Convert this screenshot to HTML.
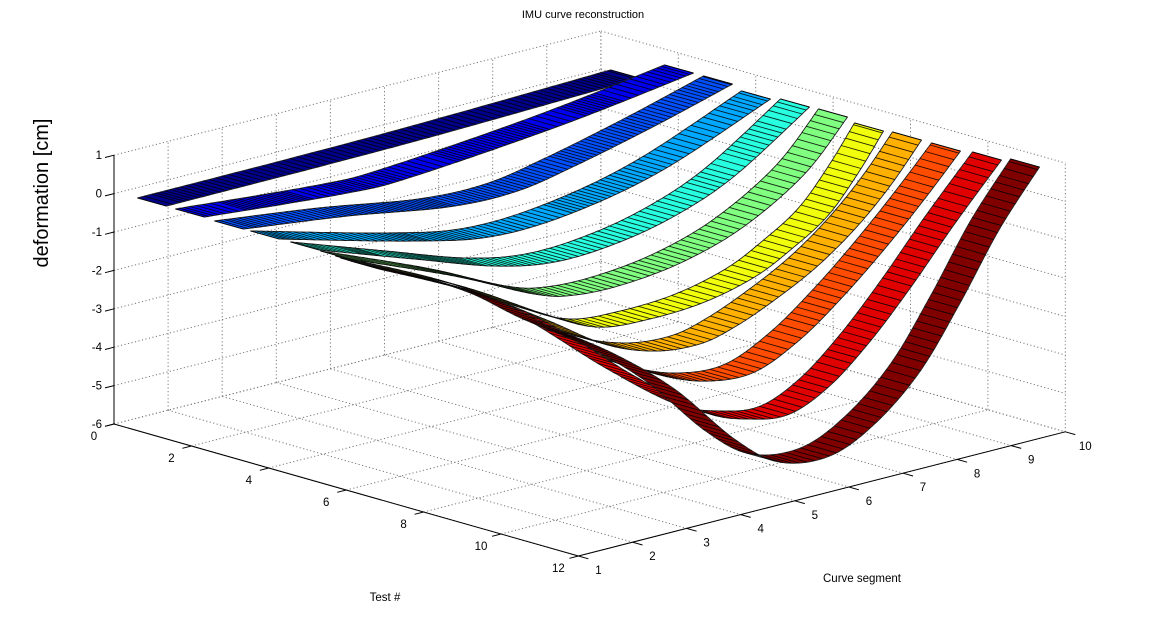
<!DOCTYPE html>
<html><head><meta charset="utf-8"><style>
html,body{margin:0;padding:0;background:#fff;}
svg{display:block;font-family:"Liberation Sans",Arial,sans-serif;}
</style></head><body>
<svg id="s" width="1166" height="629" viewBox="0 0 1166 629" xmlns="http://www.w3.org/2000/svg">
<rect width="1166" height="629" fill="#fff"/>
<g id="grid" fill="none" stroke="#7a7a7a" stroke-width="1" stroke-dasharray="1.2,2.4"></g>
<g id="axes" fill="none" stroke="#000" stroke-width="1"></g>
<g id="rib"></g>
<g id="lab" font-size="11.5" fill="#000"></g>
<text x="583" y="18" font-size="11" text-anchor="middle">IMU curve reconstruction</text>
<text x="385" y="601" font-size="11.5" text-anchor="middle">Test #</text>
<text x="862" y="582" font-size="11.5" text-anchor="middle">Curve segment</text>
<text transform="translate(48,193) rotate(-90)" font-size="20" text-anchor="middle">deformation [cm]</text>
</svg>
<script>
var NS="http://www.w3.org/2000/svg";
function P(t,s,z){return [114+38.7*t+54.1*(s-1), 424+11*t-13.8*(s-1)-38.4*(z+6)];}
function line(g,a,b,attrs){var l=document.createElementNS(NS,"line");l.setAttribute("x1",a[0]);l.setAttribute("y1",a[1]);l.setAttribute("x2",b[0]);l.setAttribute("y2",b[1]);if(attrs)for(var k in attrs)l.setAttribute(k,attrs[k]);g.appendChild(l);}
function text(g,x,y,s,anchor){var t=document.createElementNS(NS,"text");t.setAttribute("x",x);t.setAttribute("y",y);if(anchor)t.setAttribute("text-anchor",anchor);t.textContent=s;g.appendChild(t);}
var G=document.getElementById("grid"),A=document.getElementById("axes"),L=document.getElementById("lab"),R=document.getElementById("rib");
var t,s,z;
for(t=0;t<=12;t+=2)line(G,P(t,1,-6),P(t,10,-6));
for(s=1;s<=10;s++)line(G,P(0,s,-6),P(12,s,-6));
for(z=-6;z<=1;z++)line(G,P(0,1,z),P(0,10,z));
for(s=1;s<=10;s++)line(G,P(0,s,-6),P(0,s,1));
for(z=-6;z<=1;z++)line(G,P(0,10,z),P(12,10,z));
for(t=0;t<=12;t+=2)line(G,P(t,10,-6),P(t,10,1));
line(A,P(0,1,-6),P(0,1,1));
line(A,P(0,1,-6),P(12,1,-6));
line(A,P(12,1,-6),P(12,10,-6));
for(z=-6;z<=1;z++){var p=P(0,1,z);line(A,p,[p[0]-9,p[1]+2.3]);text(L,p[0]-12,p[1]+4,String(z),"end");}
for(t=0;t<=12;t+=2){var p=P(t,1,-6);line(A,p,[p[0]-9,p[1]+2.3]);text(L,p[0]-20,p[1]+16,String(t),"middle");}
for(s=1;s<=10;s++){var p=P(12,s,-6);line(A,p,[p[0]+10,p[1]+2.8]);text(L,p[0]+20,p[1]+18,String(s),"middle");}
var ribs=[
["#00008c",4,[[152,202],[390,140],[625,74]]],
["#0000ee",4,[[190,213],[333,189],[400,172],[550,120],[679,69]]],
["#0050ff",4,[[229,225],[333,212],[433,203],[500,188],[560,162],[640,122],[718,80]]],
["#00a8ff",4.5,[[265,235],[400,237],[480,232],[560,208],[650,165],[756,95]]],
["#28ffe0",5.5,[[305,246],[400,255],[480,262],[540,258],[600,240],[660,212],[720,172],[795,103]]],
["#80ff80",6.5,[[335,255],[440,272],[520,290],[560,291],[610,280],[670,257],[730,222],[790,170],[833,113]]],
["#f2ff0c",7.5,[[350,260],[450,283],[530,310],[583,323],[635,315],[690,298],[740,273],[777,245],[813,212],[843,170],[869,127]]],
["#ffb000",7.5,[[355,262],[450,285],[530,315],[590,340],[640,347],[685,340],[720,323],[760,296],[803,262],[843,222],[877,180],[907,136]]],
["#ff4c00",7.5,[[360,263],[460,288],[530,318],[600,355],[650,372],[695,377],[740,368],[785,336],[828,293],[870,245],[910,195],[946,147]]],
["#e00000",7.5,[[362,264],[465,290],[535,320],[620,372],[690,408],[735,415],[775,410],[815,382],[855,338],[895,285],[940,220],[987,156]]],
["#800000",7.5,[[365,265],[467,290],[535,322],[600,350],[660,385],[720,435],[765,458],[815,452],[860,420],[905,368],[945,300],[985,225],[1025,163]]]
];
var dx=14.5,dy=4.1;
function cr(pts){var out=[];var n=pts.length;for(var i=0;i<n-1;i++){var p0=pts[Math.max(0,i-1)],p1=pts[i],p2=pts[i+1],p3=pts[Math.min(n-1,i+2)];for(var k=0;k<40;k++){var u=k/40,u2=u*u,u3=u2*u;var f=function(a,b,c,d){return 0.5*((2*b)+(-a+c)*u+(2*a-5*b+4*c-d)*u2+(-a+3*b-3*c+d)*u3);};out.push([f(p0[0],p1[0],p2[0],p3[0]),f(p0[1],p1[1],p2[1],p3[1])]);}}out.push(pts[n-1]);return out;}
ribs.forEach(function(r){
  var d=cr(r[2]);
  var sp=r[1],res=[d[0]],acc=0;
  for(var i=1;i<d.length;i++){var l=Math.hypot(d[i][0]-d[i-1][0],d[i][1]-d[i-1][1]);acc+=l;if(acc>=sp){res.push(d[i]);acc=0;}}
  if(res[res.length-1]!==d[d.length-1])res.push(d[d.length-1]);
  var top=d.map(function(p){return (p[0]-dx).toFixed(1)+","+(p[1]-dy).toFixed(1);});
  var bot=d.map(function(p){return (p[0]+dx).toFixed(1)+","+(p[1]+dy).toFixed(1);}).reverse();
  var poly=document.createElementNS(NS,"polygon");
  poly.setAttribute("points",top.concat(bot).join(" "));
  poly.setAttribute("fill",r[0]);poly.setAttribute("stroke","#222");poly.setAttribute("stroke-width","0.9");poly.setAttribute("stroke-linejoin","round");
  R.appendChild(poly);
  var dstr="";
  res.forEach(function(p){dstr+="M"+(p[0]-dx).toFixed(1)+" "+(p[1]-dy).toFixed(1)+"L"+(p[0]+dx).toFixed(1)+" "+(p[1]+dy).toFixed(1);});
  var path=document.createElementNS(NS,"path");
  path.setAttribute("d",dstr);path.setAttribute("stroke","#000");path.setAttribute("stroke-width","0.9");path.setAttribute("stroke-opacity","0.85");path.setAttribute("fill","none");
  R.appendChild(path);
});
</script>
</body></html>
